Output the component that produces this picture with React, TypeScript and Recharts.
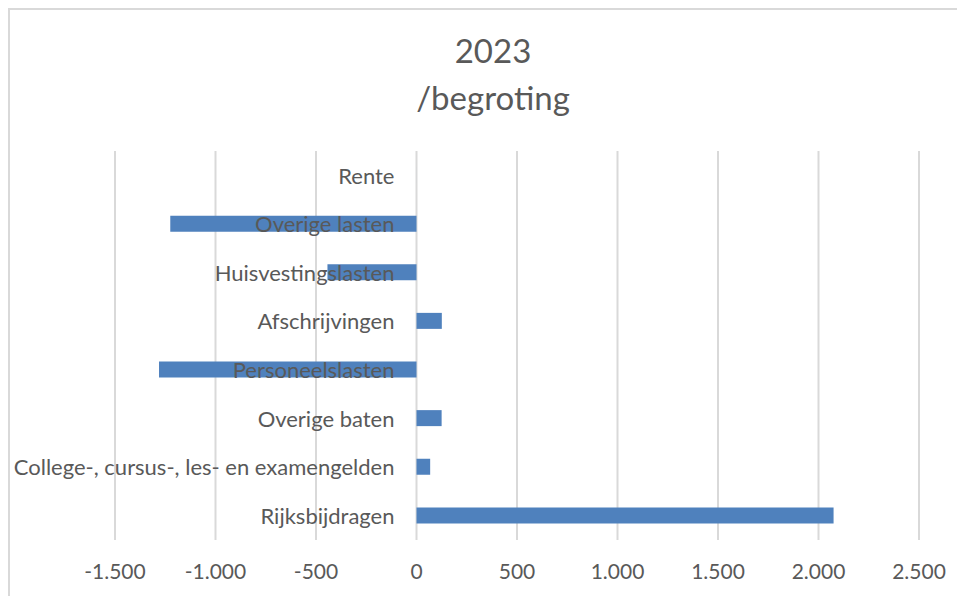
import { BarChart, Bar, XAxis, YAxis, CartesianGrid, LabelList } from "recharts"

const categories = [
  "Rente",
  "Overige lasten",
  "Huisvestingslasten",
  "Afschrijvingen",
  "Personeelslasten",
  "Overige baten",
  "College-, cursus-, les- en examengelden",
  "Rijksbijdragen",
]

const amounts = [0, -1225, -443, 126, -1281, 125, 68, 2075]

const xTicks = [-1500, -1000, -500, 0, 500, 1000, 1500, 2000, 2500]

const data = categories.map((name, i) => ({ name, value: amounts[i] }))

const FONT = "Lato, 'Open Sans', sans-serif"
const TEXT = "#595959"

// dutch thousands separator: 1500 -> 1.500
const fmt = (v: number) => {
  const s = Math.abs(v).toString().replace(/\B(?=(\d{3})+(?!\d))/g, ".")
  return v < 0 ? "-" + s : s
}

// category names sit next to the zero line, like excel's "next to axis"
// (bar x is the base value, so it is the zero line for every bar)
const CategoryLabel = (props: any) => {
  const { value } = props
  const vb = props.viewBox ?? props
  const { x, y, height } = vb
  return (
    <text
      x={x - 22}
      y={y + height / 2}
      textAnchor="end"
      dominantBaseline="central"
      fill={TEXT}
      fontSize={22}
      fontFamily={FONT}
    >
      {value}
    </text>
  )
}

export default function App() {
  return (
    <div
      style={{
        position: "relative",
        width: 957,
        height: 588,
        overflow: "hidden",
        borderTop: "2px solid #d9d9d9",
        borderLeft: "2px solid #d9d9d9",
        boxSizing: "border-box",
        background: "#fff",
      }}
    >
      <div
        style={{
          position: "absolute",
          left: 0,
          top: 17,
          width: 966,
          textAlign: "center",
          fontFamily: FONT,
          fontSize: 33,
          lineHeight: "47px",
          color: TEXT,
        }}
      >
        2023
        <br />
        /begroting
      </div>
      <div style={{ position: "absolute", left: -2, top: -2 }}>
        <BarChart
          width={957}
          height={588}
          data={data}
          layout="vertical"
          margin={{ top: 143, right: 46, bottom: 0, left: 107 }}
        >
          <CartesianGrid horizontal={false} stroke="#d9d9d9" strokeWidth={2} />
          <XAxis
            type="number"
            domain={[-1500, 2500]}
            ticks={xTicks}
            tickFormatter={fmt}
            axisLine={false}
            tickLine={false}
            tickSize={0}
            tickMargin={24}
            height={56}
            interval={0}
            tick={{ fill: TEXT, fontSize: 21, fontFamily: FONT }}
          />
          <YAxis type="category" dataKey="name" hide width={0} />
          <Bar
            dataKey="value"
            fill="#4f81bd"
            barSize={16}
            minPointSize={(v: number) => (v === 0 ? 0.01 : 0)}
            isAnimationActive={false}
          >
            <LabelList dataKey="name" content={CategoryLabel} />
          </Bar>
        </BarChart>
      </div>
    </div>
  )
}
